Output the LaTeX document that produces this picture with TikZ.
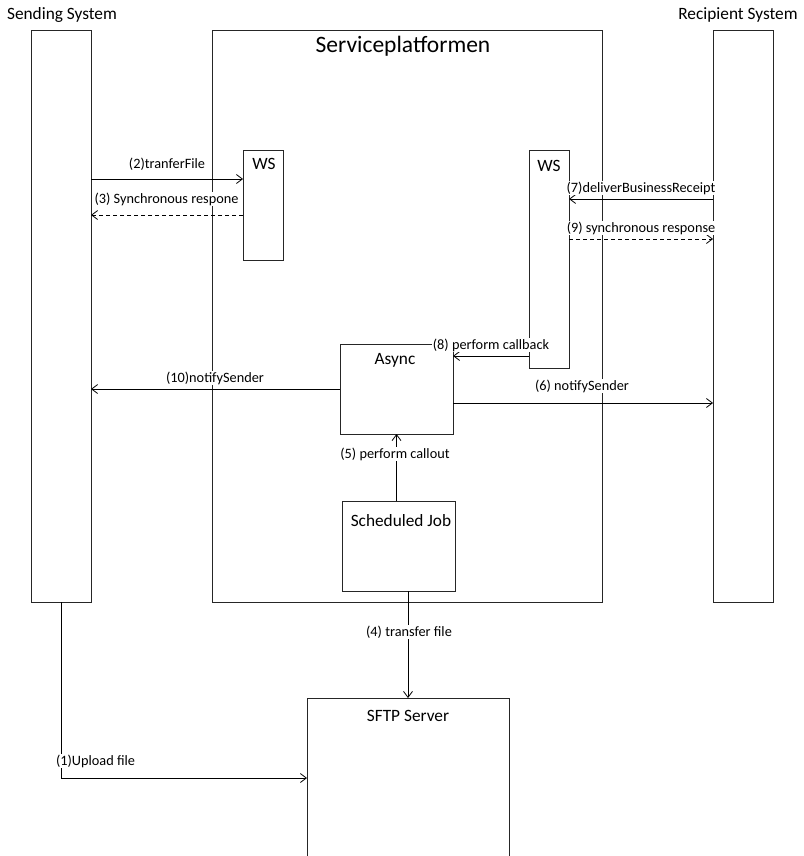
\documentclass[tikz,border=0pt]{standalone}
\usepackage{fontspec}
\setmainfont{Carlito}
\usetikzlibrary{arrows.meta}
\begin{document}
\begin{tikzpicture}[x=1pt,y=-1pt,
  box/.style={draw=black!85, line width=0.8pt, rectangle, inner sep=0pt, outer sep=0pt},
  lbl/.style={fill=white, inner sep=1pt, font=\fontsize{14.3}{16}\selectfont},
  txt/.style={inner sep=0pt, font=\fontsize{17.3}{19}\selectfont},
  msg/.style={line width=0.8pt, -{Straight Barb[length=6pt,width=9pt]}},
  ret/.style={msg, dash pattern=on 4pt off 3pt}
]
\useasboundingbox (0,0) rectangle (803,856);
% boxes
\node[box, minimum width=60pt, minimum height=572pt] (send) at (61,316) {};
\node[box, minimum width=390pt, minimum height=572pt] (serv) at (407,316) {};
\node[box, minimum width=60pt, minimum height=572pt] (recip) at (743,316) {};
\node[box, minimum width=40pt, minimum height=110pt] (wsl) at (263,205) {};
\node[box, minimum width=40pt, minimum height=218pt] (wsr) at (549,259) {};
\node[box, minimum width=113pt, minimum height=90pt] (async) at (396.5,389) {};
\node[box, minimum width=113pt, minimum height=90pt] (sched) at (398.5,546) {};
\node[rectangle, inner sep=0pt, outer sep=0pt, minimum width=202pt, minimum height=160pt] (sftp) at (408,778) {};
\draw[draw=black!85, line width=0.8pt] (sftp.south west) -- (sftp.north west) -- (sftp.north east) -- (sftp.south east);
% titles
\node[txt] (tsend) at (62,15) {Sending System};
\node[txt] (trecip) at (738,15) {Recipient System};
\node[inner sep=0pt, font=\fontsize{23.5}{26}\selectfont] (tserv) at (403,46) {Serviceplatformen};
\node[txt] (twsl) at (264,164) {WS};
\node[txt] (twsr) at (549,166) {WS};
\node[txt] (tasync) at (395,360) {Async};
\node[txt] (tsched) at (401,521) {Scheduled Job};
\node[txt] (tsftp) at (408,716) {SFTP Server};
% messages
\draw[msg] (send.east |- 0,179) -- (wsl.west |- 0,179);
\draw[ret] (wsl.west |- 0,215) -- (send.east |- 0,215);
\draw[msg] (recip.west |- 0,199) -- (wsr.east |- 0,199);
\draw[ret] (wsr.east |- 0,239) -- (recip.west |- 0,239);
\draw[msg] (wsr.west |- 0,356) -- (async.east |- 0,356);
\draw[msg] (async.west) -- (send.east |- async.west);
\draw[msg] (async.east |- 0,403) -- (recip.west |- 0,403);
\draw[msg] (async.south |- sched.north) -- (async.south);
\draw[msg] (sftp.north |- sched.south) -- (sftp.north);
\draw[msg] (send.south) |- (sftp.west);
% labels
\node[lbl] (l2) at (167,164) {(2)tranferFile};
\node[lbl] (l3) at (166.5,199) {(3) Synchronous respone};
\node[lbl] (l7) at (641,188) {(7)deliverBusinessReceipt};
\node[lbl] (l9) at (641,228) {(9) synchronous response};
\node[lbl] (l8) at (491,345) {(8) perform callback};
\node[lbl] (l10) at (215,378) {(10)notifySender};
\node[lbl] (l6) at (582,386) {(6) notifySender};
\node[lbl] (l5) at (395,454) {(5) perform callout};
\node[lbl] (l4) at (409,632) {(4) transfer file};
\node[lbl] (l1) at (95.5,761) {(1)Upload file};
\end{tikzpicture}
\end{document}
